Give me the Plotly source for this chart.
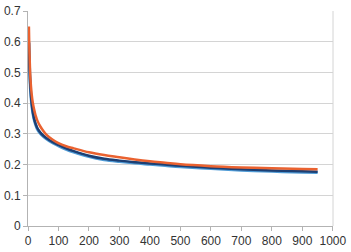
import plotly.graph_objects as go

x = [3, 5, 8, 12, 16, 20, 25, 30, 40, 50, 60, 80, 100, 125, 150, 200, 250, 300, 350, 400, 450, 500, 600, 700, 800, 900, 950]
orange = [0.65, 0.56, 0.48, 0.43, 0.40, 0.38, 0.36, 0.345, 0.325, 0.31, 0.298, 0.282, 0.27, 0.26, 0.253, 0.24, 0.231, 0.224, 0.217, 0.211, 0.206, 0.201, 0.195, 0.191, 0.188, 0.186, 0.185]
navy = [0.60, 0.52, 0.45, 0.40, 0.37, 0.35, 0.333, 0.32, 0.305, 0.295, 0.287, 0.274, 0.264, 0.253, 0.244, 0.229, 0.219, 0.213, 0.208, 0.204, 0.200, 0.196, 0.190, 0.185, 0.181, 0.178, 0.177]
light = [v - 0.003 for v in navy]
x_ticks = [0, 100, 200, 300, 400, 500, 600, 700, 800, 900, 1000]
x_labels = ["0", "100", "200", "300", "400", "500", "600", "700", "800", "900", "1000"]
y_ticks = [0, 0.1, 0.2, 0.3, 0.4, 0.5, 0.6, 0.7]
y_labels = ["0", "0.1", "0.2", "0.3", "0.4", "0.5", "0.6", "0.7"]

fig = go.Figure()
fig.add_trace(go.Scatter(x=x, y=light, mode="lines", line=dict(color="#4f9bd6", width=3, shape="spline")))
fig.add_trace(go.Scatter(x=x, y=navy, mode="lines", line=dict(color="#1d3f73", width=2.5, shape="spline")))
fig.add_trace(go.Scatter(x=x, y=orange, mode="lines", line=dict(color="#ea6230", width=2.5, shape="spline")))

fig.update_layout(
    width=351, height=252,
    margin=dict(l=25, r=5, t=4, b=24),
    plot_bgcolor="white", paper_bgcolor="white",
    showlegend=False,
    font=dict(family="Liberation Sans, Arial, sans-serif", size=12, color="#333333"),
)
fig.update_xaxes(range=[0, 1000.5], tickvals=x_ticks, ticktext=x_labels, showgrid=False, showline=True,
                 linecolor="#b3b3b3", ticks="outside", ticklen=4, tickcolor="#b3b3b3", zeroline=False,
                 ticklabeloverflow="allow")
fig.update_yaxes(range=[0, 0.7005], tickvals=y_ticks, ticktext=y_labels, showgrid=True, gridcolor="#d4d4d4",
                 showline=True, linecolor="#b3b3b3", ticks="outside", ticklen=4, tickcolor="#b3b3b3", zeroline=False,
                 ticklabeloverflow="allow")
fig.add_shape(type="line", xref="paper", yref="paper", x0=1, x1=1, y0=0, y1=1, line=dict(color="#d4d4d4", width=1))

fig.write_html("out.html")
